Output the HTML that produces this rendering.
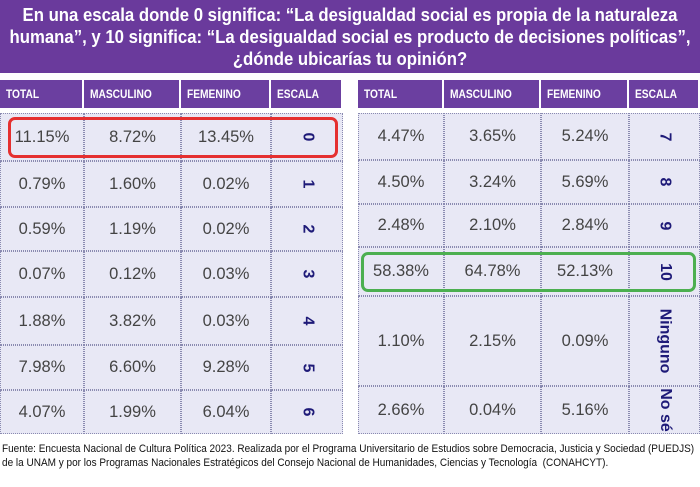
<!DOCTYPE html>
<html><head><meta charset="utf-8"><style>
*{margin:0;padding:0;box-sizing:border-box}
body{width:700px;height:487px;background:#fff;position:relative;overflow:hidden;font-family:"Liberation Sans",sans-serif}
.title{position:absolute;left:0;top:0;width:700px;height:73px;background:#6a3a9c}
.tl{position:absolute;left:350px;white-space:nowrap;color:#fff;font-weight:bold;font-size:18px;transform:translateX(-50%) scaleX(0.93);transform-origin:center}
.h{position:absolute;top:80px;height:28px;background:#6b3fa0;color:#fff;font-weight:bold;font-size:12px;line-height:28px;padding-left:6px;border-right:2px solid #fff;white-space:nowrap}
.h span{display:inline-block;transform:scaleX(0.85);transform-origin:left}
.c{position:absolute;background:#e8e8f5;border:1px dotted #8a8ab0;color:#444;font-size:16.5px;display:flex;align-items:center;justify-content:center}
.e{color:#1e1a78;font-weight:bold;font-size:16px}
.e span{display:inline-block;transform:rotate(90deg);white-space:nowrap}
.box{position:absolute;border-radius:7px}
.foot{position:absolute;left:2px;font-size:11px;line-height:13px;color:#111;white-space:nowrap;transform:scaleX(0.91);transform-origin:left}
</style></head><body>
<div class="title">
<div class="tl" style="top:5px">En una escala donde 0 significa: “La desigualdad social es propia de la naturaleza</div>
<div class="tl" style="top:27px">humana”, y 10 significa: “La desigualdad social es producto de decisiones políticas”,</div>
<div class="tl" style="top:49px">¿dónde ubicarías tu opinión?</div>
</div>

<div class="h" style="left:0;width:84px"><span>TOTAL</span></div>
<div class="h" style="left:84px;width:97px"><span>MASCULINO</span></div>
<div class="h" style="left:181px;width:90px"><span>FEMENINO</span></div>
<div class="h" style="left:271px;width:72px"><span>ESCALA</span></div>
<div class="h" style="left:358px;width:86px"><span>TOTAL</span></div>
<div class="h" style="left:444px;width:97px"><span>MASCULINO</span></div>
<div class="h" style="left:541px;width:88px"><span>FEMENINO</span></div>
<div class="h" style="left:629px;width:71px"><span>ESCALA</span></div>

<div id="L"></div>
<script>
var xl=[0,84,181,271,343], xr=[358,444,541,629,700];
var L=[[113,161,"11.15%","8.72%","13.45%","0"],[161,207,"0.79%","1.60%","0.02%","1"],[207,251,"0.59%","1.19%","0.02%","2"],[251,297,"0.07%","0.12%","0.03%","3"],[297,345,"1.88%","3.82%","0.03%","4"],[345,390,"7.98%","6.60%","9.28%","5"],[390,434,"4.07%","1.99%","6.04%","6"]];
var R=[[113,160,"4.47%","3.65%","5.24%","7"],[160,204,"4.50%","3.24%","5.69%","8"],[204,247,"2.48%","2.10%","2.84%","9"],[247,296,"58.38%","64.78%","52.13%","10"],[296,386,"1.10%","2.15%","0.09%","Ninguno"],[386,434,"2.66%","0.04%","5.16%","No sé"]];
var h="";
function t(xs,rows){rows.forEach(function(r){for(var i=0;i<4;i++){h+='<div class="c'+(i==3?' e':'')+'" style="left:'+xs[i]+'px;top:'+r[0]+'px;width:'+(xs[i+1]-xs[i])+'px;height:'+(r[1]-r[0])+'px">'+(i==3?'<span>'+r[5]+'</span>':r[2+i])+'</div>';}});}
t(xl,L);t(xr,R);
h+='<div class="box" style="left:8px;top:117px;width:330px;height:41px;border:3px solid #e53030"></div>';
h+='<div class="box" style="left:361px;top:252px;width:335px;height:40px;border:3px solid #4caf50"></div>';
document.getElementById("L").innerHTML=h;
</script>

<div class="foot" style="top:443px">Fuente: Encuesta Nacional de Cultura Política 2023. Realizada por el Programa Universitario de Estudios sobre Democracia, Justicia y Sociedad (PUEDJS)</div>
<div class="foot" style="top:457px">de la UNAM y por los Programas Nacionales Estratégicos del Consejo Nacional de Humanidades, Ciencias y Tecnología&nbsp; (CONAHCYT).</div>
</body></html>
